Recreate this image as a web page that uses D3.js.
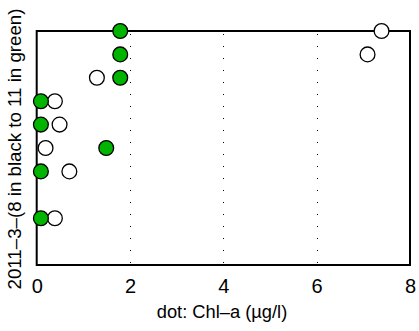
<!DOCTYPE html>
<html>
<head>
<meta charset="utf-8">
<script src="https://cdn.jsdelivr.net/npm/d3@7"></script>
<style>
  body { margin: 0; background: #fff; }
  text { font-family: "Liberation Sans", Arial, Helvetica, sans-serif; }
</style>
</head>
<body>
<svg id="chart" width="419" height="331"></svg>
<script>
// rows of the dot chart (top row = 10)
const rows = [10, 9, 8, 7, 6, 5, 4, 2];
// Chl-a values, open black circles
const blackVals = [7.39, 7.09, 1.29, 0.39, 0.49, 0.19, 0.70, 0.39];
// Chl-a values, green circles
const greenVals = [1.79, 1.79, 1.79, 0.09, 0.09, 1.49, 0.09, 0.09];
const xTicks = [0, 2, 4, 6, 8];
const gridTicks = [2, 4, 6];

const svg = d3.select('#chart');
const M_LEFT = 36.7, M_RIGHT = 410, M_TOP = 31, M_BOTTOM = 265;

let x = d3.scaleLinear().domain([0, 8]).range([M_LEFT, M_RIGHT]);
let y = d3.scaleLinear().domain([0, 10]).range([M_BOTTOM, M_TOP]);

// dotted grid lines
svg.selectAll('.grid')
  .data(gridTicks)
  .enter()
  .append('line')
  .attr('x1', d => Math.round(x(d)) + 0.5)
  .attr('x2', d => Math.round(x(d)) + 0.5)
  .attr('y1', M_TOP + 3)
  .attr('y2', M_BOTTOM)
  .attr('stroke', '#000')
  .attr('stroke-width', 1)
  .attr('stroke-dasharray', '1,11');

// frame
svg.append('rect')
  .attr('x', M_LEFT)
  .attr('y', M_TOP)
  .attr('width', M_RIGHT - M_LEFT)
  .attr('height', M_BOTTOM - M_TOP)
  .attr('fill', 'none')
  .attr('stroke', '#000')
  .attr('stroke-width', 2);

// x axis labels
let xAxis = d3.axisBottom(x).tickValues(xTicks).tickSize(0).tickPadding(0);
let gx = svg.append('g')
  .attr('transform', `translate(0,${M_BOTTOM})`)
  .call(xAxis);
gx.select('.domain').remove();
gx.selectAll('text')
  .attr('dy', null)
  .attr('y', 28)
  .attr('fill', '#000')
  .style('font-size', '20px');

// black open circles
svg.selectAll('.black')
  .data(rows)
  .enter()
  .append('circle')
  .attr('cx', (d, i) => x(blackVals[i]))
  .attr('cy', d => y(d))
  .attr('r', 7.4)
  .attr('fill', '#fff')
  .attr('stroke', '#000')
  .attr('stroke-width', 1.3);

// green circles
svg.selectAll('.green')
  .data(rows)
  .enter()
  .append('circle')
  .attr('cx', (d, i) => x(greenVals[i]))
  .attr('cy', d => y(d))
  .attr('r', 7.4)
  .attr('fill', '#00b400')
  .attr('stroke', '#000')
  .attr('stroke-width', 1.3);

// axis titles
svg.append('text')
  .attr('x', 222)
  .attr('y', 318)
  .attr('text-anchor', 'middle')
  .style('font-size', '18.3px')
  .text('dot: Chl\u2013a (\u00b5g/l)');

svg.append('text')
  .attr('transform', 'translate(21,149) rotate(-90)')
  .attr('text-anchor', 'middle')
  .style('font-size', '18.7px')
  .text('2011\u20133\u2013(8 in black to 11 in green)');
</script>
</body>
</html>
